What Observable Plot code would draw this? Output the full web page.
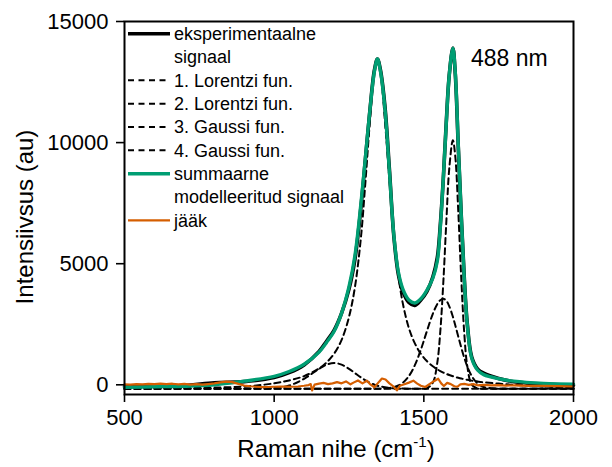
<!DOCTYPE html>
<html><head><meta charset="utf-8">
<script src="https://cdn.jsdelivr.net/npm/d3@7"></script>
<script src="https://cdn.jsdelivr.net/npm/@observablehq/plot@0.6"></script>
<style>
body{margin:0;background:#fff;}
#chart{width:612px;height:467px;}
</style>
</head><body><div id="chart"></div>
<script>
// Raman shift grid (cm-1) for the smooth curves
const shift = [500,600,700,800,900,1000,1050,1100,1150,1175,1200,1225,1250,1270,1290,1305,1320,1335,1345,1355,1370,1385,1400,1415,1430,1450,1470,1490,1510,1530,1545,1555,1565,1575,1585,1597,1605,1615,1625,1635,1645,1660,1680,1700,1750,1800,1900,2000];
// 1. Lorentzi fun.
const lorentz1 = [-150,-145,-135,-115,-70,60,180,360,676,920,1281,1846,2800,4050,6100,8400,10900,12950,13400,12950,10900,8500,6050,4500,3350,2346,1711,1281,981,763,638,568,506,452,404,354,323,290,259,231,206,173,136,104,50,0,-70,-120];
// 2. Lorentzi fun.
const lorentz2 = [-160,-160,-160,-160,-160,-160,-160,-160,-160,-160,-160,-160,-160,-160,-160,-160,-160,-160,-160,-160,-160,-160,-160,-160,-160,-160,-160,-160,-141,83,917,2200,4211,6694,8941,10100,9443,7182,4406,2149,789,10,-152,-160,-160,-160,-160,-160];
// 3. Gaussi fun.
const gauss3 = [-160,-160,-160,-160,-160,-160,-160,-160,-160,-160,-160,-160,-160,-160,-160,-160,-160,-160,-160,-160,-147,-130,-95,-29,87,359,810,1448,2207,2932,3335,3494,3550,3470,3242,2811,2462,1996,1539,1121,765,363,50,-89,-160,-160,-160,-160];
// 4. Gaussi fun.
const gauss4 = [-160,-160,-160,-160,-158,-130,-30,250,660,834,900,834,660,483,304,184,84,5,-36,-69,-104,-128,-142,-150,-155,-160,-160,-160,-160,-160,-160,-160,-160,-160,-160,-160,-160,-160,-160,-160,-160,-160,-160,-160,-160,-160,-160,-160];
// summaarne modelleeritud signaal
const fitSum = [-100,-80,-60,0,150,350,550,850,1350,1750,2200,2950,4050,5350,7500,9400,11350,12950,13450,12950,11400,8800,6150,4650,3950,3500,3380,3550,3900,4400,5100,6500,8500,10800,12800,13900,12900,9900,7000,4400,2500,1100,600,420,250,150,60,30];
// eksperimentaalne signaal
const experimental = [-80,-50,-30,80,130,300,500,820,1380,1800,2250,2950,3950,5200,7350,9350,11350,13000,13450,13000,11500,8900,6100,4550,3850,3400,3280,3500,3850,4450,5250,6600,8500,10850,12800,13900,12850,9850,7000,4450,2550,1150,650,480,260,130,30,-20];
// jääk (residual)
const resShift = [500,520,540,560,580,600,620,640,660,680,700,720,740,760,780,800,820,840,860,880,900,920,940,960,980,1000,1020,1040,1060,1080,1100,1115,1122,1127,1135,1150,1165,1180,1195,1210,1225,1240,1255,1265,1280,1295,1310,1320,1335,1350,1360,1372,1385,1398,1410,1420,1435,1450,1465,1478,1490,1505,1520,1535,1548,1558,1567,1578,1590,1602,1612,1622,1635,1650,1665,1680,1700,1725,1750,1775,1800,1850,1900,1950,2000];
const residual = [20,10,30,15,40,25,50,30,45,20,35,10,25,5,30,60,100,130,110,40,-30,-60,-80,-95,-90,-80,-75,-70,-80,-70,-40,-10,30,-230,10,50,80,30,60,110,60,140,20,90,180,60,170,30,-100,120,260,220,60,-60,-230,-40,20,90,170,50,-40,-90,40,160,250,60,-50,80,30,-60,-80,20,40,0,30,-20,0,-20,-10,-30,-20,-40,-45,-55,-70];

const xTicks = [500,1000,1500,2000];
const yTicks = [0,5000,10000,15000];
const legendLabels = ["eksperimentaalne","signaal","1. Lorentzi fun.","2. Lorentzi fun.","3. Gaussi fun.","4. Gaussi fun.","summaarne","modelleeritud signaal","jääk"];
const annotation = "488 nm";

const GREEN = "#009E73", ORANGE = "#D55E00";
const FONT = "'Liberation Sans', Arial, sans-serif";
const dash = "6,4";

const comp = (vals) => Plot.line(vals, {x: shift, y: vals, curve: "catmull-rom", stroke: "black", strokeWidth: 2, strokeDasharray: dash});

const svgEl = Plot.plot({
  width: 612, height: 467,
  marginLeft: 124, marginRight: 39, marginTop: 21, marginBottom: 73,
  style: {fontFamily: FONT, fontSize: "22px", color: "black", background: "white", overflow: "visible"},
  x: {domain: [500, 2000]},
  y: {domain: [-400, 15000]},
  marks: [
    comp(lorentz1), comp(lorentz2), comp(gauss3), comp(gauss4),
    Plot.line(experimental, {x: shift, y: experimental, curve: "catmull-rom", stroke: "black", strokeWidth: 3.6}),
    Plot.line(fitSum, {x: shift, y: fitSum, curve: "catmull-rom", stroke: GREEN, strokeWidth: 3.4}),
    Plot.line(residual, {x: resShift, y: residual, stroke: ORANGE, strokeWidth: 2.2}),
    Plot.frame({stroke: "black", strokeWidth: 2}),
    Plot.axisX({ticks: xTicks, tickSize: 8, tickPadding: 7, tickFormat: d3.format("d"), label: null, fontSize: 22, strokeWidth: 1.6}),
    Plot.axisY({ticks: yTicks, tickSize: 8, tickPadding: 8, tickFormat: d3.format("d"), label: null, fontSize: 22, strokeWidth: 1.6})
  ]
});
document.getElementById("chart").appendChild(svgEl);

const svg = d3.select(svgEl);
// axis titles
svg.append("text").attr("transform", "translate(33,217) rotate(-90)")
  .attr("text-anchor", "middle").attr("font-size", 24).attr("font-family", FONT).attr("fill", "black")
  .text("Intensiivsus (au)");
const xl = svg.append("text").attr("x", 336).attr("y", 457).attr("text-anchor", "middle")
  .attr("font-size", 24).attr("font-family", FONT).attr("fill", "black");
xl.append("tspan").text("Raman nihe (cm");
xl.append("tspan").attr("dy", -10).attr("font-size", 15).text("-1");
xl.append("tspan").attr("dy", 10).text(")");

// annotation
svg.append("text").attr("x", 471).attr("y", 66).attr("text-anchor", "start").attr("font-size", 23).attr("font-family", FONT)
  .attr("fill", "black").text(annotation);

// legend
const legendStyles = [
  {stroke: "black", width: 3.6, dash: null},
  null,
  {stroke: "black", width: 2, dash: "6,4.5"},
  {stroke: "black", width: 2, dash: "6,4.5"},
  {stroke: "black", width: 2, dash: "6,4.5"},
  {stroke: "black", width: 2, dash: "6,4.5"},
  {stroke: GREEN, width: 3.4, dash: null},
  null,
  {stroke: ORANGE, width: 2.2, dash: null}
];
const lg = svg.append("g").attr("font-family", FONT).attr("font-size", 18).attr("fill", "black").attr("text-anchor", "start");
legendLabels.forEach((lab, k) => {
  const base = 40 + k * 23.33;
  const st = legendStyles[k];
  if (st) {
    const ln = lg.append("line").attr("x1", 128).attr("x2", 170).attr("y1", base - 6.3).attr("y2", base - 6.3)
      .attr("stroke", st.stroke).attr("stroke-width", st.width);
    if (st.dash) ln.attr("stroke-dasharray", st.dash);
  }
  lg.append("text").attr("x", 174).attr("y", base).attr("text-anchor", "start").text(lab);
});
</script>
</body></html>
